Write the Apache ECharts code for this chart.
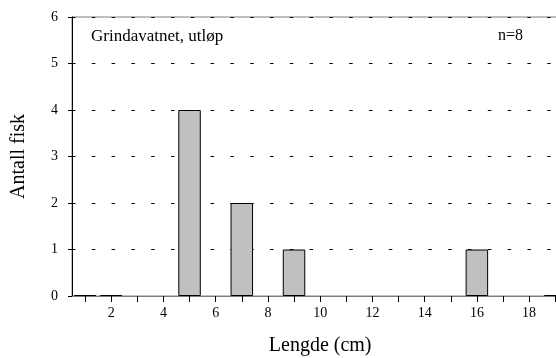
<!DOCTYPE html>
<html>
<head>
<meta charset="utf-8">
<script src="https://cdn.jsdelivr.net/npm/echarts@6/dist/echarts.min.js"></script>
<style>
  html, body { margin: 0; padding: 0; background: #fff; }
  #chart { width: 556px; height: 358px; }
</style>
</head>
<body>
<div id="chart"></div>
<script>
// Length classes (cm) and number of fish in each class
const lengths = ['1','2','3','4','5','6','7','8','9','10','11','12','13','14','15','16','17','18','19'];
const counts  = [0, 0, null, null, 4, null, 2, null, 1, null, null, null, null, null, null, 1, null, null, 0];
const yTicks = { min: 0, max: 6, interval: 1 };
const siteName = 'Grindavatnet, utløp';
const sampleSize = 'n=8';

const FONT = 'Liberation Serif';
const chart = echarts.init(document.getElementById('chart'), null, { renderer: 'canvas' });

chart.setOption({
  animation: false,
  backgroundColor: '#fff',
  title: [
    { text: siteName, left: 91, top: 28, padding: 0,
      textStyle: { fontFamily: FONT, fontSize: 17, fontWeight: 'normal', color: '#000' } },
    { text: sampleSize, left: 498, top: 28, padding: 0,
      textStyle: { fontFamily: FONT, fontSize: 16, fontWeight: 'normal', color: '#000' } }
  ],
  grid: {
    left: 72, top: 17, bottom: 62, right: -12.3,
    outerBoundsMode: 'none',
    containLabel: false,
    show: true, borderColor: '#808080', borderWidth: 1, backgroundColor: 'transparent'
  },
  xAxis: {
    type: 'category',
    data: lengths,
    boundaryGap: true,
    name: 'Lengde (cm)',
    nameLocation: 'middle',
    nameGap: 40,
    nameTextStyle: { fontFamily: FONT, fontSize: 20, color: '#000' },
    axisLine: { show: true, lineStyle: { color: '#808080', width: 1 } },
    axisTick: { show: true, alignWithLabel: true, interval: 0, length: 6, lineStyle: { color: '#000' } },
    axisLabel: {
      interval: (idx, val) => Number(val) % 2 === 0,
      fontFamily: FONT, fontSize: 14, color: '#000', margin: 10
    },
    splitLine: { show: false }
  },
  yAxis: {
    type: 'value',
    min: yTicks.min, max: yTicks.max, interval: yTicks.interval,
    name: 'Antall fisk',
    nameLocation: 'middle',
    nameGap: 43,
    nameTextStyle: { fontFamily: FONT, fontSize: 20, color: '#000' },
    axisLine: { show: true, lineStyle: { color: '#000', width: 1 } },
    axisTick: { show: true, length: 4, lineStyle: { color: '#000' } },
    axisLabel: { fontFamily: FONT, fontSize: 14, color: '#000', margin: 14 },
    splitLine: {
      show: true,
      lineStyle: { color: '#000', width: 1, type: [3.5, 16.3], dashOffset: 0 }
    }
  },
  series: [{
    type: 'bar',
    data: counts,
    barWidth: 22.5,
    barMinHeight: 1,
    itemStyle: { color: '#c0c0c0', borderColor: '#000', borderWidth: 1 },
    z: 3
  }]
});
</script>
</body>
</html>
